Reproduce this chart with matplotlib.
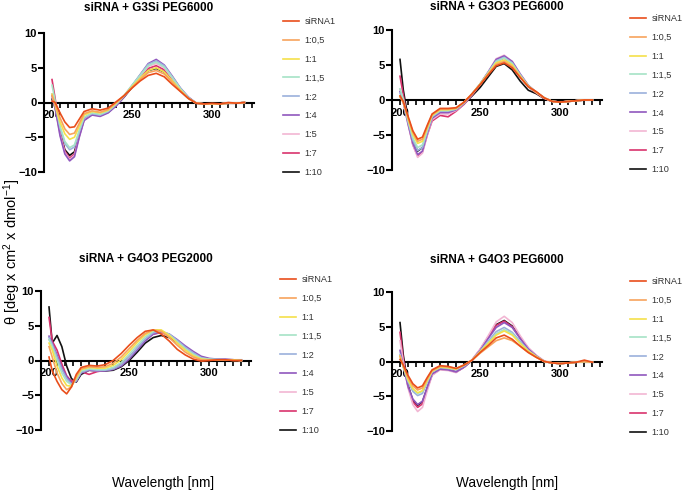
import numpy as np
import matplotlib
matplotlib.use('Agg')
import matplotlib.pyplot as plt
from matplotlib.ticker import MultipleLocator

plt.rcParams['font.family'] = ['Liberation Sans', 'DejaVu Sans']
plt.rcParams['mathtext.fontset'] = 'custom'
plt.rcParams['mathtext.rm'] = 'Liberation Sans'
plt.rcParams['mathtext.it'] = 'Liberation Sans:italic'
plt.rcParams['mathtext.bf'] = 'Liberation Sans:bold'

# wavelengths (nm) where the curves were read
wl = [200, 202, 205, 208, 211, 214, 217, 220, 225, 230, 235, 240, 245, 250,
      255, 260, 265, 270, 275, 280, 285, 290, 295, 300, 305, 310, 315, 320]

labels = ['siRNA1', '1:0,5', '1:1', '1:1,5', '1:2', '1:4', '1:5', '1:7', '1:10']
colors = ['#E94E1B', '#F7A35C', '#F5E04A', '#A6E3C6', '#9BB0DC', '#9057BE', '#F2B6D3', '#D9336D', '#111111']
titles = ['siRNA + G3Si PEG6000', 'siRNA + G3O3 PEG6000', 'siRNA + G4O3 PEG2000', 'siRNA + G4O3 PEG6000']

g3si_peg6000 = [
    [0.2, 0.0, -1.5, -2.8, -3.6, -3.5, -2.4, -1.3, -0.9, -1.1, -0.8, 0.1, 1.0, 2.1, 3.1, 3.9, 4.2, 3.7, 2.6, 1.6, 0.6, -0.1, -0.2, -0.1, -0.2, 0.0, -0.1, 0.0],
    [1.0, -0.3, -2.2, -3.8, -4.6, -4.4, -3.0, -1.6, -1.2, -1.4, -1.0, 0.0, 1.0, 2.2, 3.3, 4.3, 4.6, 4.1, 2.9, 1.7, 0.6, -0.1, -0.2, -0.2, -0.2, -0.1, -0.1, 0.0],
    [1.2, -0.5, -2.8, -4.5, -5.3, -5.0, -3.4, -1.8, -1.3, -1.5, -1.1, -0.1, 1.0, 2.3, 3.5, 4.6, 5.0, 4.4, 3.1, 1.8, 0.6, -0.1, -0.2, -0.2, -0.2, -0.1, -0.1, 0.0],
    [2.5, 0.2, -3.4, -5.6, -6.5, -6.1, -4.0, -2.1, -1.5, -1.7, -1.2, -0.2, 1.0, 2.5, 3.9, 5.3, 5.8, 5.1, 3.6, 2.0, 0.7, -0.1, -0.2, -0.2, -0.2, -0.1, -0.1, 0.0],
    [1.2, -0.3, -3.6, -5.9, -6.8, -6.4, -4.2, -2.2, -1.6, -1.8, -1.3, -0.3, 1.0, 2.5, 4.0, 5.5, 6.0, 5.3, 3.7, 2.1, 0.7, -0.1, -0.2, -0.2, -0.2, -0.1, -0.1, 0.0],
    [1.0, -0.8, -4.8, -7.4, -8.4, -7.8, -5.0, -2.6, -1.8, -2.0, -1.5, -0.5, 0.8, 2.4, 4.0, 5.6, 6.2, 5.4, 3.8, 2.1, 0.8, -0.1, -0.2, -0.2, -0.2, -0.1, -0.1, 0.0],
    [0.8, -0.8, -4.6, -7.2, -8.2, -7.6, -4.9, -2.5, -1.7, -1.9, -1.4, -0.4, 0.9, 2.4, 3.8, 5.2, 5.6, 5.0, 3.5, 2.0, 0.7, -0.1, -0.2, -0.2, -0.2, -0.1, -0.1, 0.0],
    [3.3, 0.5, -4.3, -7.0, -8.0, -7.4, -4.8, -2.5, -1.7, -1.9, -1.4, -0.4, 0.9, 2.3, 3.6, 4.9, 5.3, 4.7, 3.3, 1.9, 0.7, -0.1, -0.2, -0.2, -0.2, -0.1, -0.1, 0.0],
    [0.5, -0.8, -4.2, -6.8, -7.6, -7.1, -4.6, -2.4, -1.6, -1.8, -1.4, -0.4, 0.8, 2.2, 3.5, 4.6, 4.9, 4.4, 3.1, 1.7, 0.6, -0.1, -0.2, -0.2, -0.2, -0.1, -0.1, 0.0],
]

g3o3_peg6000 = [
    [0.6, -0.2, -2.3, -4.4, -5.6, -5.3, -3.6, -2.0, -1.2, -1.2, -1.1, -0.3, 0.9, 2.2, 3.6, 4.9, 5.3, 4.6, 3.2, 1.9, 1.2, 0.3, -0.2, -0.3, -0.2, -0.1, 0.0, 0.0],
    [0.4, -0.3, -2.5, -4.6, -5.9, -5.6, -3.8, -2.1, -1.3, -1.3, -1.2, -0.3, 0.9, 2.2, 3.7, 5.1, 5.5, 4.8, 3.3, 1.9, 1.1, 0.3, -0.2, -0.3, -0.2, -0.1, 0.0, 0.0],
    [0.5, -0.3, -2.7, -4.9, -6.2, -5.9, -4.0, -2.2, -1.4, -1.4, -1.2, -0.3, 0.9, 2.3, 3.8, 5.3, 5.7, 5.0, 3.4, 2.0, 1.1, 0.3, -0.2, -0.3, -0.2, -0.1, 0.0, 0.0],
    [1.6, 0.2, -2.9, -5.4, -6.8, -6.4, -4.3, -2.3, -1.5, -1.5, -1.3, -0.4, 0.9, 2.3, 3.9, 5.5, 6.0, 5.2, 3.5, 2.0, 1.1, 0.3, -0.2, -0.3, -0.2, -0.1, 0.0, 0.0],
    [1.0, -0.2, -3.1, -5.7, -7.2, -6.8, -4.5, -2.4, -1.6, -1.6, -1.3, -0.4, 0.9, 2.3, 3.9, 5.6, 6.1, 5.3, 3.6, 2.0, 1.1, 0.3, -0.2, -0.3, -0.2, -0.1, 0.0, 0.0],
    [1.2, -0.3, -3.4, -6.2, -7.8, -7.3, -4.8, -2.6, -1.8, -1.8, -1.4, -0.5, 0.8, 2.3, 4.0, 5.8, 6.3, 5.5, 3.7, 2.1, 1.1, 0.3, -0.2, -0.3, -0.2, -0.1, 0.0, 0.0],
    [1.5, -0.2, -3.5, -6.4, -8.2, -7.6, -5.0, -2.8, -2.0, -2.0, -1.5, -0.5, 0.8, 2.3, 4.0, 5.9, 6.4, 5.5, 3.7, 2.1, 1.1, 0.3, -0.2, -0.3, -0.2, -0.1, 0.0, 0.0],
    [3.4, 0.8, -3.2, -6.4, -8.0, -7.4, -5.0, -3.0, -2.2, -2.4, -1.6, -0.6, 0.7, 2.2, 3.8, 5.5, 6.0, 5.1, 3.5, 1.9, 1.0, 0.2, -0.2, -0.3, -0.2, -0.1, 0.0, 0.0],
    [5.8, 1.5, -2.6, -5.8, -7.3, -6.8, -4.5, -2.5, -1.6, -1.6, -1.3, -0.5, 0.6, 1.8, 3.3, 4.8, 5.2, 4.3, 2.7, 1.4, 0.9, 0.2, -0.2, -0.2, -0.2, -0.1, 0.0, 0.0],
]

g4o3_peg2000 = [
    [0.5, -1.5, -3.0, -4.2, -4.8, -3.8, -2.0, -1.0, -0.7, -0.8, -0.6, 0.0, 1.0, 2.2, 3.3, 4.2, 4.4, 3.8, 2.8, 1.6, 0.8, 0.2, -0.1, 0.0, 0.1, 0.1, 0.0, 0.0],
    [2.0, 0.5, -1.8, -3.3, -4.2, -3.8, -2.3, -1.2, -0.9, -1.0, -0.9, -0.4, 0.5, 1.7, 2.9, 3.9, 4.4, 4.2, 3.3, 2.2, 1.2, 0.5, 0.1, 0.1, 0.1, 0.1, 0.0, 0.0],
    [2.5, 1.5, -0.8, -2.5, -3.6, -3.7, -2.5, -1.3, -1.0, -1.1, -1.1, -0.7, 0.1, 1.3, 2.6, 3.7, 4.4, 4.4, 3.6, 2.5, 1.5, 0.7, 0.2, 0.1, 0.1, 0.1, 0.1, 0.0],
    [3.0, 2.0, 0.0, -1.8, -3.0, -3.5, -2.7, -1.5, -1.2, -1.3, -1.3, -1.0, -0.3, 0.9, 2.2, 3.4, 4.2, 4.3, 3.7, 2.7, 1.7, 0.9, 0.3, 0.2, 0.1, 0.1, 0.1, 0.0],
    [3.3, 2.3, 0.5, -1.3, -2.6, -3.4, -2.9, -1.7, -1.3, -1.4, -1.4, -1.2, -0.6, 0.5, 1.8, 3.1, 4.0, 4.2, 3.8, 2.9, 1.9, 1.1, 0.4, 0.2, 0.2, 0.1, 0.1, 0.0],
    [3.5, 2.5, 0.8, -1.0, -2.3, -3.2, -3.0, -1.8, -1.4, -1.5, -1.5, -1.3, -0.8, 0.2, 1.5, 2.8, 3.8, 4.1, 3.8, 3.0, 2.1, 1.3, 0.6, 0.3, 0.2, 0.2, 0.1, 0.1],
    [3.0, 2.2, 0.6, -1.2, -2.5, -3.3, -2.9, -1.7, -1.4, -1.5, -1.4, -1.2, -0.7, 0.4, 1.7, 3.0, 3.9, 4.1, 3.7, 2.9, 1.9, 1.1, 0.5, 0.2, 0.2, 0.1, 0.1, 0.0],
    [6.2, 2.8, 1.5, -0.5, -2.2, -3.0, -2.6, -1.6, -2.0, -1.6, -1.4, -1.1, -0.5, 0.5, 1.8, 3.0, 3.8, 4.0, 3.6, 2.7, 1.8, 1.0, 0.4, 0.2, 0.1, 0.1, 0.1, 0.0],
    [7.7, 2.5, 3.6, 2.0, -0.8, -2.6, -3.1, -2.0, -1.4, -1.5, -1.5, -1.4, -0.9, 0.0, 1.2, 2.5, 3.3, 3.6, 3.3, 2.6, 1.8, 1.0, 0.4, 0.2, 0.1, 0.1, 0.1, 0.0],
]

g4o3_peg6000 = [
    [0.3, -0.5, -2.0, -3.2, -3.8, -3.5, -2.3, -1.2, -0.6, -0.7, -1.0, -0.5, 0.2, 1.3, 2.3, 3.4, 3.8, 3.2, 2.2, 1.3, 0.6, 0.0, -0.2, -0.3, -0.2, -0.1, 0.2, -0.1],
    [0.8, -0.6, -2.3, -3.5, -4.1, -3.8, -2.5, -1.3, -0.7, -0.8, -1.0, -0.5, 0.2, 1.2, 2.1, 3.0, 3.4, 3.0, 2.2, 1.3, 0.6, 0.0, -0.2, -0.3, -0.2, -0.1, 0.0, -0.1],
    [0.7, -0.7, -2.6, -3.9, -4.5, -4.2, -2.7, -1.4, -0.8, -0.9, -1.1, -0.5, 0.2, 1.4, 2.6, 3.8, 4.4, 3.8, 2.6, 1.5, 0.7, 0.0, -0.2, -0.3, -0.2, -0.1, 0.0, -0.1],
    [0.9, -0.7, -2.7, -4.0, -4.6, -4.3, -2.8, -1.4, -0.8, -0.9, -1.1, -0.6, 0.2, 1.4, 2.7, 4.0, 4.6, 4.0, 2.7, 1.5, 0.7, 0.0, -0.2, -0.3, -0.2, -0.1, 0.0, -0.1],
    [1.0, -0.8, -2.9, -4.3, -4.9, -4.6, -3.0, -1.5, -0.9, -1.0, -1.2, -0.6, 0.2, 1.5, 2.9, 4.3, 4.9, 4.2, 2.9, 1.6, 0.7, 0.0, -0.2, -0.3, -0.2, -0.1, 0.0, -0.1],
    [1.6, -0.6, -3.6, -5.4, -6.2, -5.7, -3.7, -1.8, -1.1, -1.2, -1.5, -0.8, 0.2, 1.6, 3.3, 4.9, 5.6, 4.9, 3.3, 1.8, 0.8, 0.0, -0.2, -0.3, -0.2, -0.1, 0.0, -0.1],
    [3.0, 0.0, -3.8, -6.2, -7.2, -6.6, -4.2, -2.0, -1.2, -1.3, -1.6, -0.8, 0.3, 1.8, 3.7, 5.7, 6.5, 5.6, 3.7, 2.0, 0.9, 0.1, -0.2, -0.3, -0.2, -0.1, 0.0, -0.1],
    [4.2, 0.4, -3.6, -5.8, -6.6, -6.1, -3.9, -1.9, -1.1, -1.2, -1.5, -0.8, 0.2, 1.7, 3.5, 5.2, 5.8, 5.0, 3.4, 1.9, 0.8, 0.0, -0.2, -0.3, -0.2, -0.1, 0.0, -0.1],
    [5.6, 1.0, -3.4, -5.6, -6.3, -5.8, -3.8, -1.9, -1.1, -1.2, -1.5, -0.8, 0.2, 1.7, 3.5, 5.3, 5.9, 5.1, 3.4, 1.9, 0.8, 0.0, -0.2, -0.3, -0.2, -0.1, 0.0, -0.1],
]

W, H = 685.0, 492.0
# axes boxes in pixels: left, right, top(y=10), bottom(y=-10), legend left x, first row y, title y
boxes = [(44, 254, 33, 172, 283, 21, 8),
         (392, 602, 30, 170, 630, 18, 7),
         (41, 251, 291, 430, 280, 279, 259),
         (392, 602, 292, 431, 630, 281, 260)]


def draw_panel(fig, box, title, data):
    l, r, t, b, lx, ly, ty = box
    ax = fig.add_axes([l / W, 1 - b / H, (r - l) / W, (b - t) / H])
    for i in range(len(data) - 1, -1, -1):
        ax.plot(wl, data[i], color=colors[i], lw=1.2, label=labels[i], zorder=3)

    ax.set_xlim(195, 326)
    ax.set_ylim(-10, 10)
    ax.spines['top'].set_visible(False)
    ax.spines['right'].set_visible(False)
    ax.spines['bottom'].set_position(('data', 0))
    ax.spines['left'].set_bounds(-10, 10)
    for s in ['bottom', 'left']:
        ax.spines[s].set_linewidth(1.5)

    ax.set_xticks([200, 250, 300])
    ax.xaxis.set_minor_locator(MultipleLocator(5))
    ax.set_yticks([-10, -5, 0, 5, 10])
    ax.tick_params(axis='x', which='both', direction='out', length=3.5, width=1.2, pad=2)
    ax.tick_params(axis='y', direction='out', length=4, width=1.5, pad=1)
    for lab in ax.get_xticklabels() + ax.get_yticklabels():
        lab.set_fontweight('bold')
        lab.set_fontsize(8)

    fig.text((l + r) / 2 / W, 1 - ty / H, title, ha='center', va='center',
             fontsize=8.5, fontweight='bold')

    handles, labs = ax.get_legend_handles_labels()
    ax.legend(handles[::-1], labs[::-1], loc='upper left', frameon=False,
              bbox_to_anchor=(lx / W, 1 - (ly - 4) / H), bbox_transform=fig.transFigure,
              borderaxespad=0, borderpad=0, handlelength=1.75, handletextpad=0.6,
              labelspacing=1.08, fontsize=6.6, labelcolor='#333333')
    return ax


def main():
    fig = plt.figure(figsize=(6.85, 4.92), dpi=100)
    panels = [g3si_peg6000, g3o3_peg6000, g4o3_peg2000, g4o3_peg6000]
    for i in range(0, 4):
        draw_panel(fig, boxes[i], titles[i], panels[i])

    fig.text(1 / W, 1 - 252 / H, 'θ [deg x cm$^2$ x dmol$^{-1}$]',
             rotation=90, ha='left', va='center', fontsize=10.5)
    fig.text(163 / W, 1 - 483 / H, 'Wavelength [nm]', ha='center', va='center', fontsize=9.8)
    fig.text(507 / W, 1 - 483 / H, 'Wavelength [nm]', ha='center', va='center', fontsize=9.8)

    fig.savefig('out.png', dpi=100)


if __name__ == '__main__':
    main()
